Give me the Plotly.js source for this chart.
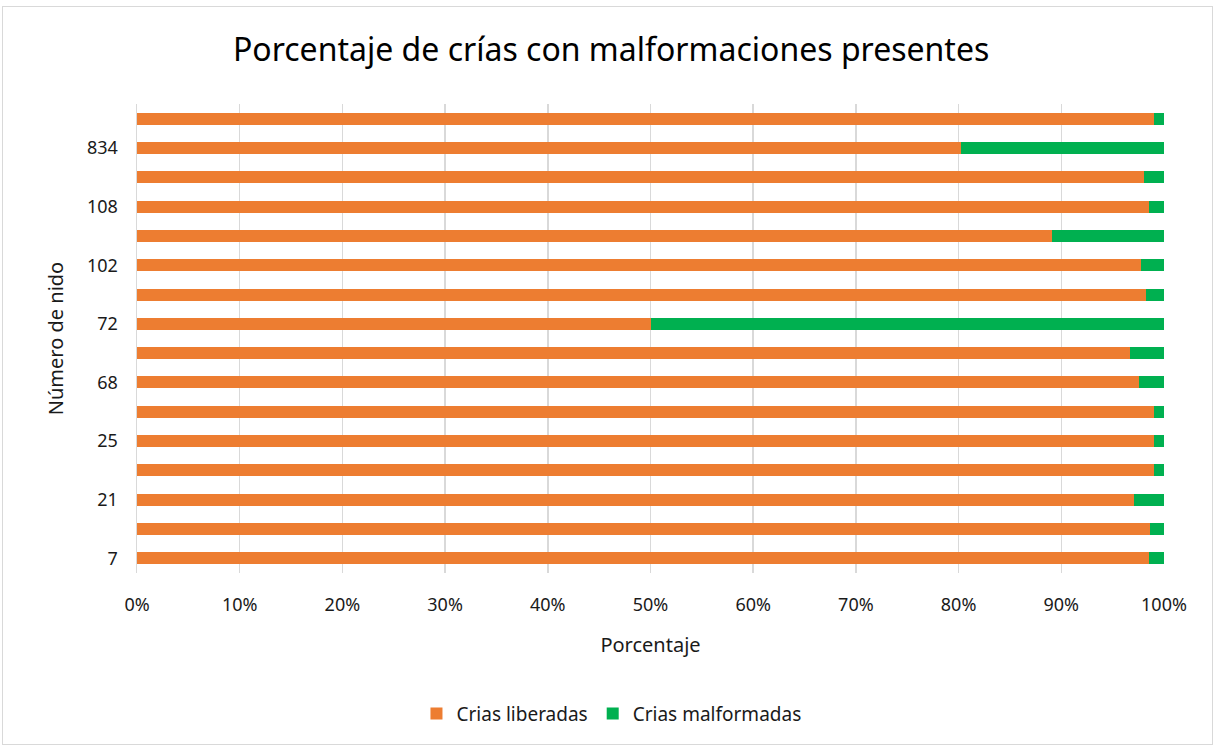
<!DOCTYPE html>
<html><head><meta charset="utf-8">
<script src="https://cdn.plot.ly/plotly-3.0.1.min.js"></script>
<style>
html,body{margin:0;padding:0;background:#fff;}
#chart{width:1215px;height:747px;position:absolute;left:0;top:0;}
#frame{position:absolute;left:2px;top:6px;width:1209px;height:737px;border:1px solid #d9d9d9;pointer-events:none;}
</style></head>
<body>
<div id="chart"></div>
<div id="frame"></div>
<script>
// Nest numbers (bottom to top); unlabeled nests in the original are shown without a tick label
const nidos = ["7", "nido b", "21", "nido d", "25", "nido f", "68", "nido h", "72", "nido j", "102", "nido l", "108", "nido n", "834", "nido p"];
const criasLiberadas = [98.5, 98.6, 97.1, 99.0, 99.0, 99.05, 97.6, 96.7, 50.0, 98.2, 97.8, 89.1, 98.5, 98.1, 80.2, 99.0];
const criasMalformadas = criasLiberadas.map(v => +(100 - v).toFixed(2));
const xTickVals = [0, 10, 20, 30, 40, 50, 60, 70, 80, 90, 100];
const xTickText = ["0%", "10%", "20%", "30%", "40%", "50%", "60%", "70%", "80%", "90%", "100%"];

const font = "Noto Sans, Open Sans, sans-serif";
const traces = [
  {type: "bar", orientation: "h", name: "Crias liberadas", y: nidos, x: criasLiberadas,
   marker: {color: "#ED7D31"}, hoverinfo: "x+y"},
  {type: "bar", orientation: "h", name: "Crias malformadas", y: nidos, x: criasMalformadas,
   marker: {color: "#00B050"}, hoverinfo: "x+y"}
];
const layout = {
  width: 1215, height: 747,
  margin: {l: 137, r: 51, t: 104, b: 174},
  paper_bgcolor: "#fff", plot_bgcolor: "#fff",
  barmode: "stack", bargap: 0.59,
  font: {family: font, color: "#404040"},
  title: {text: "Porcentaje de crías con malformaciones presentes", x: 0.503, xanchor: "center",
          y: 1 - 50/747, yanchor: "middle", yref: "container",
          font: {family: font, size: 32, color: "#000"}},
  xaxis: {range: [0, 100], tickvals: xTickVals, ticktext: xTickText, showgrid: true,
          gridcolor: "#d9d9d9", gridwidth: 1.5, zeroline: false, showline: false, ticks: "",
          tickfont: {size: 18, color: "#1a1a1a"}, ticklabelstandoff: 19,
          title: {text: "Porcentaje", font: {size: 20, color: "#1a1a1a"}, standoff: 22}},
  yaxis: {type: "category", dtick: 2, tick0: 0, showgrid: false, showline: true,
          linecolor: "#d9d9d9", linewidth: 1.5, ticks: "", zeroline: false,
          tickfont: {size: 18, color: "#1a1a1a"}, ticklabelstandoff: 14,
          range: [-0.5, 15.5],
          title: {text: "Número de nido", font: {size: 20, color: "#1a1a1a"}, standoff: 18}},
  showlegend: true,
  legend: {orientation: "h", x: 0.462, xanchor: "center", y: -0.30, yanchor: "middle",
           font: {size: 19, color: "#1a1a1a"}, traceorder: "normal", itemwidth: 30}
};
Plotly.newPlot("chart", traces, layout, {displayModeBar: false, staticPlot: true});
</script>
</body></html>
